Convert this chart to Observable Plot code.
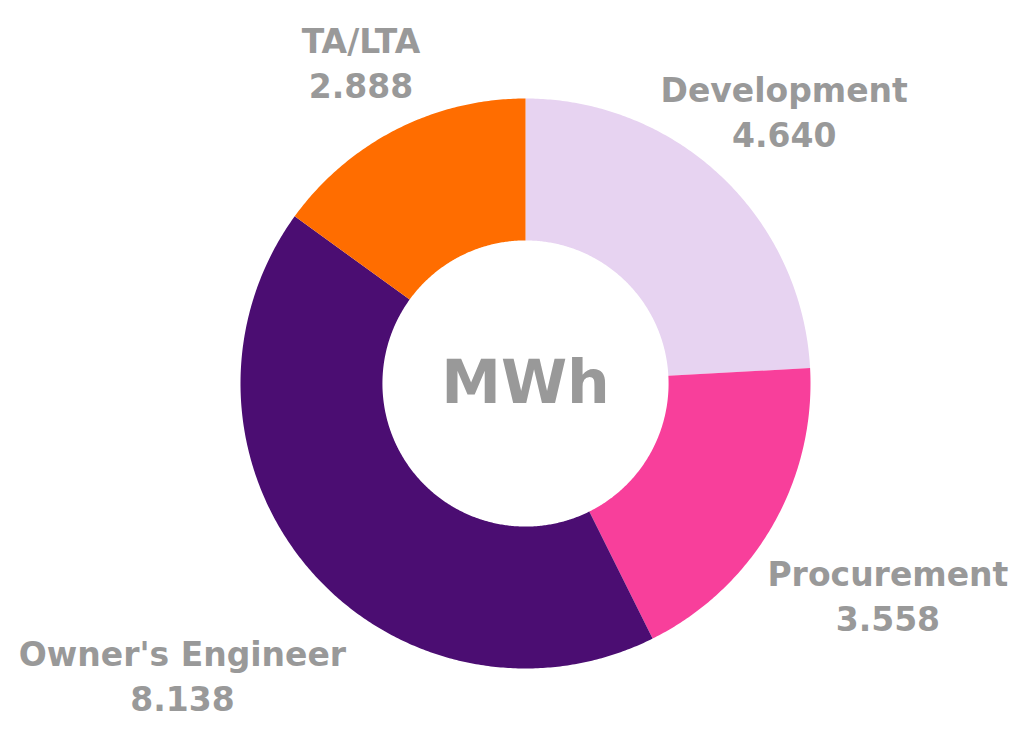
<!DOCTYPE html>
<html>
<head>
<meta charset="utf-8">
<script src="https://cdn.jsdelivr.net/npm/d3@7"></script>
<script src="https://cdn.jsdelivr.net/npm/@observablehq/plot@0.6"></script>
<style>
  html, body { margin: 0; padding: 0; background: #ffffff; }
  #chart svg { display: block; }
</style>
</head>
<body>
<div id="chart"></div>
<script>
const categories = ["Development", "Procurement", "Owner's Engineer", "TA/LTA"];
const values = [4.640, 3.558, 8.138, 2.888];
const colors = ["#E7D3F1", "#F83F9B", "#4B0D72", "#FF6D00"];
const centerLabel = "MWh";

const innerRatio = 0.502;
const fmt = d3.format(".3f");

const pie = d3.pie().sort(null).value(d => d.value);
const arcs = pie(categories.map((name, i) => ({name, value: values[i]})));

function ringPolygon(a0, a1, r0, r1) {
  const n = Math.max(8, Math.ceil((a1 - a0) / (Math.PI / 360)));
  const outer = d3.range(n + 1).map(k => {
    const a = a0 + (a1 - a0) * k / n;
    return [r1 * Math.sin(a), -r1 * Math.cos(a)];
  });
  const inner = d3.range(n + 1).map(k => {
    const a = a1 - (a1 - a0) * k / n;
    return [r0 * Math.sin(a), -r0 * Math.cos(a)];
  });
  const ring = outer.concat(inner);
  ring.push(ring[0]);
  return ring;
}

const features = arcs.map(a => ({
  type: "Feature",
  properties: {name: a.data.name},
  geometry: {type: "Polygon", coordinates: [ringPolygon(a.startAngle, a.endAngle, innerRatio, 1)]}
}));

const labels = arcs.map(a => {
  const mid = (a.startAngle + a.endAngle) / 2;
  const s = Math.sin(mid), c = Math.cos(mid);
  const r = 1.27 + 0.1 * Math.max(0, s * c) + 0.4 * Math.max(0, -c);
  return {x: r * s, y: -r * c, text: a.data.name + "\n" + fmt(a.data.value)};
});

const domain = {
  type: "Feature",
  properties: {},
  geometry: {type: "Polygon", coordinates: [[[-1, -1], [1, -1], [1, 1], [-1, 1], [-1, -1]]]}
};

const plot = Plot.plot({
  width: 1013,
  height: 743,
  marginLeft: 240,
  marginRight: 203,
  marginTop: 98,
  marginBottom: 75,
  projection: {type: "identity", domain, inset: 0, clip: false},
  color: {domain: categories, range: colors},
  style: {fontFamily: "'DejaVu Sans', sans-serif", background: "#ffffff"},
  marks: [
    Plot.geo(features, {fill: d => d.properties.name, stroke: "none"}),
    Plot.text(labels, {
      x: "x", y: "y", text: "text", clip: false,
      fill: "#999999", fontSize: 33, fontWeight: "bold", lineHeight: 1.36
    }),
    Plot.text([centerLabel], {
      x: () => 0, y: () => 0, text: d => d,
      fill: "#999999", fontSize: 60, fontWeight: "bold"
    })
  ]
});

document.getElementById("chart").appendChild(plot);
</script>
</body>
</html>
